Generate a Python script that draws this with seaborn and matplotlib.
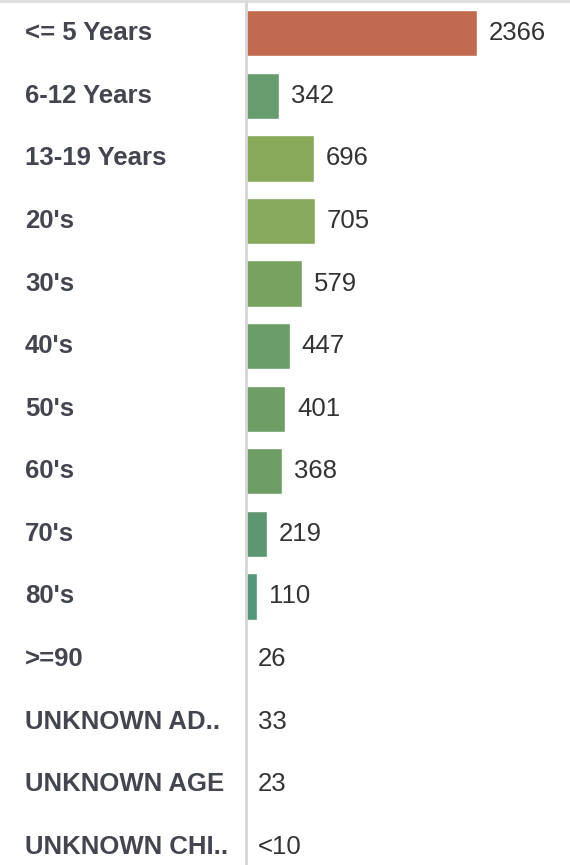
import numpy as np
import pandas as pd
import seaborn as sns
import matplotlib.pyplot as plt
from matplotlib.transforms import blended_transform_factory
from matplotlib.lines import Line2D

# Yas gruplari ve sayilar
age_groups = ["<= 5 Years", "6-12 Years", "13-19 Years", "20's", "30's", "40's",
              "50's", "60's", "70's", "80's", ">=90", "UNKNOWN AD..",
              "UNKNOWN AGE", "UNKNOWN CHI.."]
# bar degerleri (kucuk gruplarda cubuk gosterilmiyor)
bar_values = [2366, 342, 696, 705, 579, 447, 401, 368, 219, 110,
              np.nan, np.nan, np.nan, np.nan]
value_labels = ["2366", "342", "696", "705", "579", "447", "401", "368", "219",
                "110", "26", "33", "23", "<10"]
bar_colors = ["#c26a4f", "#669c6e", "#88a95a", "#87a95c", "#78a260", "#6a9c68",
              "#6e9e66", "#6e9e66", "#5c9772", "#54977a",
              "#5c9772", "#5c9772", "#5c9772", "#5c9772"]

df = pd.DataFrame({"group": age_groups, "count": bar_values})

sns.set_theme(style="white")
plt.rcParams['font.family'] = ['Liberation Sans', 'DejaVu Sans']

fig = plt.figure(figsize=(5.7, 8.65), dpi=100)
ax = fig.add_axes([246 / 570, 0, 324 / 570, 1])

sns.barplot(data=df, y="group", x="count", hue="group", palette=bar_colors,
            order=age_groups, hue_order=age_groups, legend=False,
            width=0.74, orient="h", saturation=1, ax=ax)

ax.set_xlim(0, 3323)
ax.set_ylim(13.29, -0.53)
ax.set_xlabel("")
ax.set_ylabel("")
ax.set_xticks([])
ax.set_yticks([])
for side in ["top", "right", "bottom"]:
    ax.spines[side].set_visible(False)
ax.spines["left"].set_color("#d6d6d6")
ax.spines["left"].set_linewidth(2)
ax.spines["left"].set_zorder(5)

# Deger etiketleri
for i, (val, lab) in enumerate(zip(bar_values, value_labels)):
    x = 0 if np.isnan(val) else val
    ax.annotate(lab, xy=(x, i), xytext=(8.5, 0), textcoords="offset points",
                ha="left", va="center", fontsize=18.5, color="#333333")

# Kategori etiketleri
trans = blended_transform_factory(fig.transFigure, ax.transData)
for i, g in enumerate(age_groups):
    ax.text(25 / 570, i, g, transform=trans, ha="left", va="center",
            fontsize=18.5, fontweight="bold", color="#43464f", clip_on=False)

# ust cizgi
fig.add_artist(Line2D([0, 1], [1 - 1 / 865, 1 - 1 / 865], transform=fig.transFigure,
                      color="#dcdcdc", linewidth=2))

fig.savefig("out.png", dpi=100, facecolor="white")
